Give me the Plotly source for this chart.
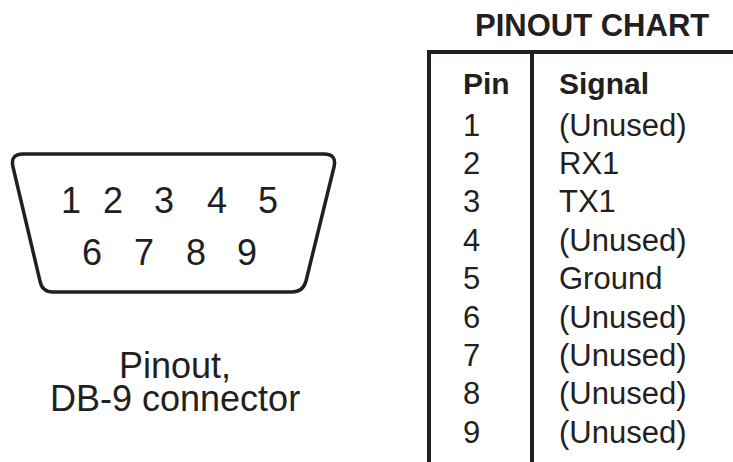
import plotly.graph_objects as go

# ---- data ----
title = "PINOUT CHART"
col_headers = ["Pin", "Signal"]
pins = ["1", "2", "3", "4", "5", "6", "7", "8", "9"]
signals = ["(Unused)", "RX1", "TX1", "(Unused)", "Ground",
           "(Unused)", "(Unused)", "(Unused)", "(Unused)"]
connector_row1 = ["1", "2", "3", "4", "5"]
connector_row2 = ["6", "7", "8", "9"]
caption = ["Pinout,", "DB-9 connector"]

# ---- layout constants ----
W, H = 733, 462
INK = "#231f20"
FONT = "Liberation Sans, Arial, sans-serif"

row1_x = [71, 113, 164, 217, 268]
row2_x = [92, 144, 196, 247]
row1_y, row2_y = 200, 252

pin_x, sig_x = 461, 557
header_y = 83
row0_y, row_dy = 125, 38.4

fig = go.Figure()
fig.add_trace(go.Scatter(x=[0, W], y=[0, H], mode="markers",
                         marker=dict(opacity=0), hoverinfo="skip",
                         showlegend=False))

ann = []
def txt(x, y, s, size, bold=False, xanchor="center"):
    ann.append(dict(x=x, y=y, xref="x", yref="y", text=("<b>%s</b>" % s) if bold else s,
                    showarrow=False, xanchor=xanchor, yanchor="middle",
                    font=dict(family=FONT, size=size, color=INK)))

# connector outline
path = ("M 23,154 L 324,154 Q 337,154 334,167 L 306,281 Q 303,292 292,292 "
        "L 53,292 Q 42,292 40,281 L 13,167 Q 10,154 23,154 Z")
shapes = [dict(type="path", path=path, xref="x", yref="y",
               line=dict(color=INK, width=3.5), fillcolor="rgba(0,0,0,0)")]

for s, x in zip(connector_row1, row1_x):
    txt(x, row1_y, s, 36)
for s, x in zip(connector_row2, row2_x):
    txt(x, row2_y, s, 36)

txt(175, 365, caption[0], 36)
txt(175, 398, caption[1], 36)

# table
txt(592, 25, title, 31, bold=True)
shapes.append(dict(type="line", xref="x", yref="y", x0=427, x1=W, y0=52, y1=52,
                   line=dict(color=INK, width=4)))
shapes.append(dict(type="line", xref="x", yref="y", x0=429, x1=429, y0=50, y1=H,
                   line=dict(color=INK, width=4)))
shapes.append(dict(type="line", xref="x", yref="y", x0=532, x1=532, y0=50, y1=H,
                   line=dict(color=INK, width=4)))

txt(pin_x, header_y, col_headers[0], 30, bold=True, xanchor="left")
txt(sig_x, header_y, col_headers[1], 30, bold=True, xanchor="left")
for i, (p, s) in enumerate(zip(pins, signals)):
    y = row0_y + i * row_dy
    txt(pin_x, y, p, 31, xanchor="left")
    txt(sig_x, y, s, 31, xanchor="left")

fig.update_layout(
    width=W, height=H, margin=dict(l=0, r=0, t=0, b=0),
    paper_bgcolor="white", plot_bgcolor="white",
    xaxis=dict(range=[0, W], visible=False, fixedrange=True),
    yaxis=dict(range=[H, 0], visible=False, fixedrange=True),
    shapes=shapes, annotations=ann, showlegend=False,
)
fig.write_html("out.html", config={"displayModeBar": False},
               post_script="document.body.style.margin='0';document.body.style.overflow='hidden';")
